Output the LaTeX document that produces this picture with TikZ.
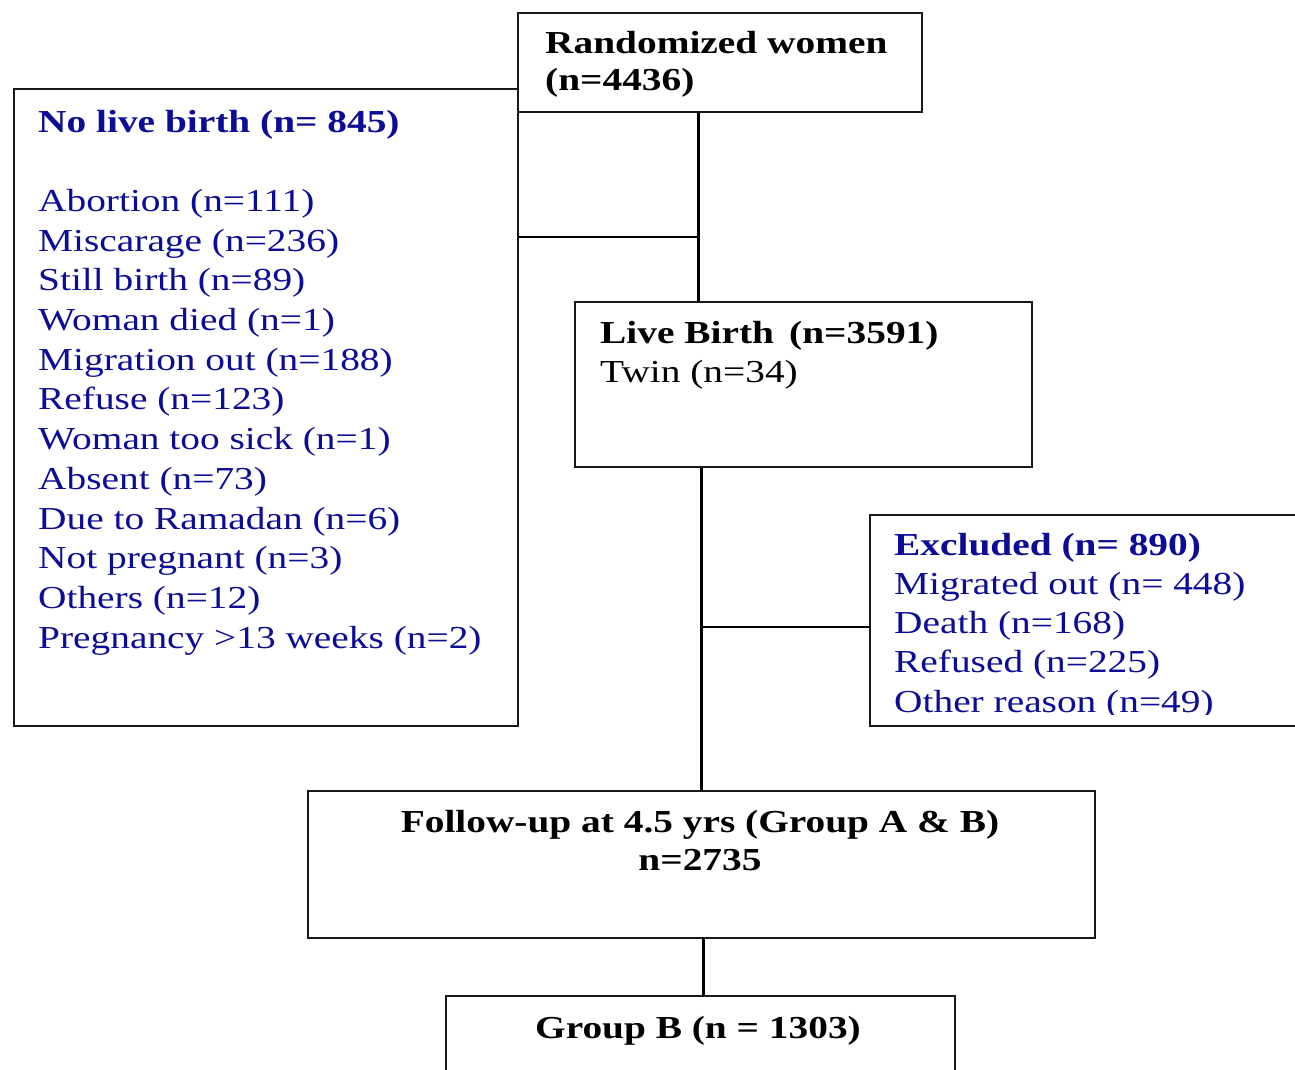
\documentclass[tikz,border=0pt]{standalone}
\usepackage{fontspec}
\setmainfont[FakeStretch=1.23]{Liberation Serif}
\definecolor{navy}{RGB}{12,12,150}
\definecolor{frame}{RGB}{25,25,25}
\begin{document}
\begin{tikzpicture}[x=1pt,y=-1pt,
  box/.style={draw=frame,line width=2.4pt,rectangle,inner sep=0pt,anchor=north west},
  link/.style={draw=black,line width=3pt},
  txt/.style={inner sep=0pt,anchor=base west,font=\fontsize{32}{39.7}\selectfont}]
\useasboundingbox[fill=white] (0,0) rectangle (1295,1069);
% boxes
\node[box,minimum width=404,minimum height=99] (rand) at (517,12) {};
\node[box,minimum width=504,minimum height=637] (nolive) at (13,88) {};
\node[box,minimum width=457,minimum height=165] (live) at (574,301) {};
\node[box,minimum width=450,minimum height=211] (excl) at (869,514) {};
\node[box,minimum width=787,minimum height=147] (follow) at (307,790) {};
\node[box,minimum width=509,minimum height=90] (groupb) at (445,995) {};
% texts
\node[txt,font=\fontsize{32}{37}\selectfont] (trand) at (545,53)
  {\parbox[t]{380pt}{\bfseries Randomized women\\(n=4436)}};
\node[txt,text=navy] (tnolive) at (38,132)
  {\parbox[t]{470pt}{\textbf{No live birth (n= 845)}\\[39.7pt]
   Abortion (n=111)\\ Miscarage (n=236)\\ Still birth (n=89)\\ Woman died (n=1)\\
   Migration out (n=188)\\ Refuse (n=123)\\ Woman too sick (n=1)\\ Absent (n=73)\\
   Due to Ramadan (n=6)\\ Not pregnant (n=3)\\ Others (n=12)\\ Pregnancy >13 weeks (n=2)}};
\node[txt] (tlive) at (600,343)
  {\parbox[t]{420pt}{\textbf{Live Birth\, (n=3591)}\\ Twin (n=34)}};
\begin{scope}
\clip (869,514) rectangle (1295,714);
\node[txt,text=navy,font=\fontsize{32}{39.3}\selectfont] (texcl) at (894,555)
  {\parbox[t]{400pt}{\textbf{Excluded (n= 890)}\\ Migrated out (n= 448)\\ Death (n=168)\\ Refused (n=225)\\ Other reason (n=49)}};
\end{scope}
\node[txt,anchor=base,font=\fontsize{32}{38}\selectfont] (tfollow) at (700,832)
  {\parbox[t]{760pt}{\centering\bfseries Follow-up at 4.5 yrs (Group A \& B)\\ n=2735}};
\node[txt,anchor=base,font=\fontsize{32}{38}\selectfont\bfseries] (tgroupb) at (698,1038) {Group B (n = 1303)};
% connectors
\coordinate (v1) at (698,0);
\coordinate (j1) at (697,237);
\coordinate (v2) at (701,0);
\coordinate (j2) at (701,627);
\coordinate (v3) at (703,0);
\draw[link] (rand.south -| v1) -- (live.north -| v1);
\draw[link,line width=2.2pt] (j1 -| nolive.east) -- (j1);
\draw[link] (live.south -| v2) -- (follow.north -| v2);
\draw[link,line width=2.4pt] (j2) -- (j2 -| excl.west);
\draw[link] (follow.south -| v3) -- (groupb.north -| v3);
\end{tikzpicture}
\end{document}
